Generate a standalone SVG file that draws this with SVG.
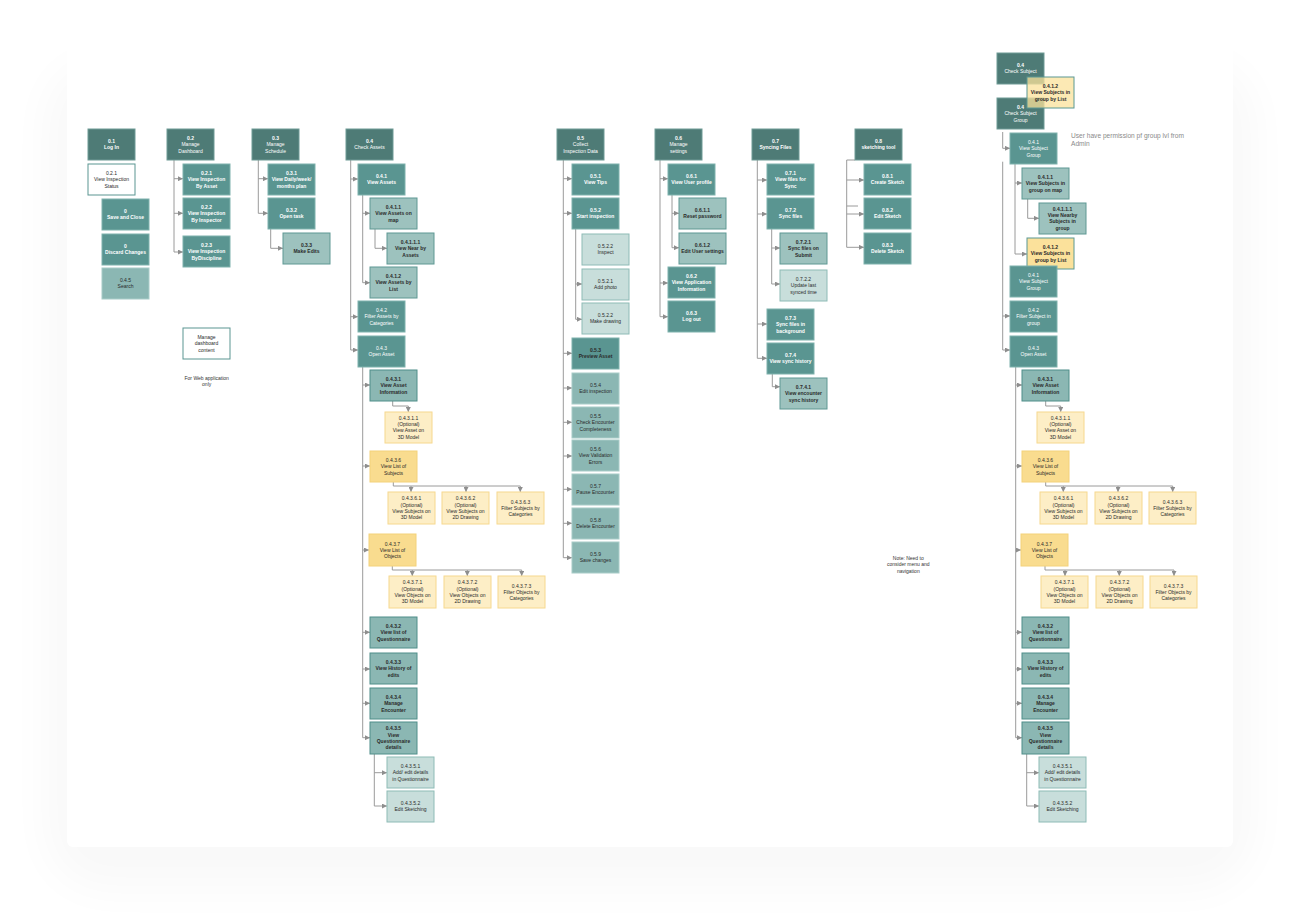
<svg xmlns="http://www.w3.org/2000/svg" width="1300" height="919" viewBox="0 0 1300 919">
<style>
text{font-family:"Liberation Sans",Arial,sans-serif;font-size:5px;text-anchor:middle}
.tw{fill:#ffffff}.td{fill:#2a2a2a}.b{font-weight:bold}
rect{stroke-width:1}
.dk{fill:#4e7b76;stroke:#6f9b96}
.md{fill:#5a9591;stroke:#7fb2ad}
.lt{fill:#9dc2be;stroke:#5e9893}
.gy{fill:#8bb7b3;stroke:#a8ccc8}
.gb{fill:#8bb7b3;stroke:#4f8e89}
.vl{fill:#c8dedb;stroke:#8ebbb6}
.pl{fill:#fdeec6;stroke:#f6d88e}
.yl{fill:#f9dc8f;stroke:#f3d27a}
.yt{fill:#fbe19b;stroke:#5b9893}
.wh{fill:#ffffff;stroke:#5a9591}
.c{fill:none;stroke:#9a9a9a;stroke-width:1}
.a{fill:none;stroke:#9a9a9a;stroke-width:1;marker-end:url(#ah)}
.note{fill:#333;text-anchor:middle}
</style>
<defs>
<marker id="ah" viewBox="0 0 10 10" refX="10" refY="5" markerWidth="5" markerHeight="5" markerUnits="userSpaceOnUse" orient="auto"><path d="M0,0 L10,5 L0,10 z" fill="#8e8e8e"/></marker>
<filter id="sh" x="-10%" y="-10%" width="120%" height="125%"><feGaussianBlur stdDeviation="22"/></filter>
</defs>
<rect width="1300" height="919" fill="#ffffff"/>
<rect x="45" y="60" width="1210" height="830" rx="60" fill="#000" opacity="0.025" filter="url(#sh)"/>
<rect x="67" y="10" width="1166" height="837" rx="6" fill="#ffffff"/>

<g id="connectors">
<path class="c" d="M174,160 V252"/>
<path class="a" d="M174,178.7 H183"/><path class="a" d="M174,213.3 H183"/><path class="a" d="M174,252 H183"/>
<path class="c" d="M258.3,160 V213.3"/>
<path class="a" d="M258.3,178.7 H268"/><path class="a" d="M258.3,213.3 H268"/>
<path class="a" d="M270.7,229 V248.3 H283"/>

<path class="c" d="M350.7,160 V350"/>
<path class="a" d="M350.7,179 H358"/><path class="a" d="M350.7,316.7 H358"/><path class="a" d="M350.7,350 H358"/>
<path class="c" d="M362.7,195 V282.7"/>
<path class="a" d="M362.7,213.3 H370"/><path class="a" d="M362.7,282.7 H370"/>
<path class="a" d="M375,229 V248.3 H387"/>
<path class="c" d="M362.7,367 V737.7"/>
<path class="a" d="M362.7,385 H370"/><path class="a" d="M362.7,466 H370"/><path class="a" d="M362.7,550 H369"/><path class="a" d="M362.7,632.3 H370"/><path class="a" d="M362.7,669 H370"/><path class="a" d="M362.7,703.3 H370"/><path class="a" d="M362.7,737.7 H370"/>
<path class="a" d="M392.7,401 V406 H408.3 V412"/>
<path class="c" d="M393.3,482 V486 H520.3"/>
<path class="a" d="M411,486 V492"/><path class="a" d="M466,486 V492"/><path class="a" d="M520.3,486 V492"/>
<path class="c" d="M392.3,566 V570 H521.7"/>
<path class="a" d="M412.3,570 V576"/><path class="a" d="M467.3,570 V576"/><path class="a" d="M521.7,570 V576"/>
<path class="c" d="M374.3,754 V806"/>
<path class="a" d="M374.3,772.7 H387"/><path class="a" d="M374.3,806 H387"/>

<path class="c" d="M563.3,160 V557.7"/>
<path class="a" d="M563.3,178.7 H572"/><path class="a" d="M563.3,213.3 H572"/><path class="a" d="M563.3,353.3 H572"/><path class="a" d="M563.3,388 H572"/><path class="a" d="M563.3,422.3 H572"/><path class="a" d="M563.3,456 H572"/><path class="a" d="M563.3,489.3 H572"/><path class="a" d="M563.3,523.3 H572"/><path class="a" d="M563.3,557.7 H572"/>
<path class="c" d="M575.7,229 V319.3"/>
<path class="a" d="M575.7,284 H582"/><path class="a" d="M575.7,319.3 H582"/>

<path class="c" d="M660,160 V316.7"/>
<path class="a" d="M660,178.7 H668"/><path class="a" d="M660,283 H668"/><path class="a" d="M660,316.7 H668"/>
<path class="c" d="M672,195 V247.7"/>
<path class="a" d="M672,213.3 H679"/><path class="a" d="M672,247.7 H679"/>

<path class="c" d="M757.3,160 V358.3"/>
<path class="a" d="M757.3,180 H767"/><path class="a" d="M757.3,214 H767"/><path class="a" d="M757.3,324 H767"/><path class="a" d="M757.3,358.3 H767"/>
<path class="c" d="M771.7,229 V284"/>
<path class="a" d="M771.7,248 H780"/><path class="a" d="M771.7,284 H780"/>
<path class="a" d="M772.3,374 V386.7 H780"/>

<path class="c" d="M855,160 H846.7 V247.3"/>
<path class="c" d="M846.7,206 H858"/>
<path class="a" d="M846.7,180 H864"/><path class="a" d="M846.7,214 H864"/><path class="a" d="M846.7,247.3 H864"/>

<path class="a" d="M1002.7,132 V148.3 H1010"/>
<path class="c" d="M1002.7,161.7 V350"/>
<path class="a" d="M1002.7,316 H1010"/><path class="a" d="M1002.7,350 H1010"/>
<path class="c" d="M1015,164 V254"/>
<path class="a" d="M1015,183 H1022"/><path class="a" d="M1015,254 H1027"/>
<path class="a" d="M1027.7,199 V218.3 H1039"/>
<path class="c" d="M1015.7,367 V737.7"/>
<path class="a" d="M1015.7,385 H1022"/><path class="a" d="M1015.7,466 H1022"/><path class="a" d="M1015.7,550 H1021"/><path class="a" d="M1015.7,632.3 H1022"/><path class="a" d="M1015.7,669 H1022"/><path class="a" d="M1015.7,703.3 H1022"/><path class="a" d="M1015.7,737.7 H1022"/>
<path class="a" d="M1045.7,401 V406 H1060.7 V412"/>
<path class="c" d="M1045.7,482 V486 H1172.7"/>
<path class="a" d="M1063.3,486 V492"/><path class="a" d="M1118,486 V492"/><path class="a" d="M1172.7,486 V492"/>
<path class="c" d="M1045,566 V570 H1174"/>
<path class="a" d="M1065,570 V576"/><path class="a" d="M1119.3,570 V576"/><path class="a" d="M1174,570 V576"/>
<path class="c" d="M1026.7,754 V806"/>
<path class="a" d="M1026.7,772.7 H1039"/><path class="a" d="M1026.7,806 H1039"/>
</g>

<g id="n01"><rect class="dk" x="88" y="129" width="47" height="31"/><text class="tw b" x="111.5" y="143.15"><tspan>0.1</tspan><tspan x="111.5" dy="6.3">Log In</tspan></text></g>
<g id="n021w"><rect class="wh" x="88" y="164" width="47" height="31"/><text class="td" x="111.5" y="175"><tspan>0.2.1</tspan><tspan x="111.5" dy="6.3">View Inspection</tspan><tspan x="111.5" dy="6.3">Status</tspan></text></g>
<g id="nsave"><rect class="md" x="102" y="199" width="47" height="31"/><text class="tw b" x="125.5" y="213.15"><tspan>0</tspan><tspan x="125.5" dy="6.3">Save and Close</tspan></text></g>
<g id="ndisc"><rect class="md" x="102" y="234" width="47" height="31"/><text class="tw b" x="125.5" y="248.15"><tspan>0</tspan><tspan x="125.5" dy="6.3">Discard Changes</tspan></text></g>
<g id="nsearch"><rect class="gy" x="102" y="268" width="47" height="31"/><text class="td" x="125.5" y="282.15"><tspan>0.4.5</tspan><tspan x="125.5" dy="6.3">Search</tspan></text></g>

<g id="n02"><rect class="dk" x="167" y="129" width="47" height="31"/><text class="tw" x="190.5" y="140"><tspan class="b">0.2</tspan><tspan x="190.5" dy="6.3">Manage</tspan><tspan x="190.5" dy="6.3">Dashboard</tspan></text></g>
<g id="n021"><rect class="md" x="183" y="164" width="47" height="31"/><text class="tw b" x="206.5" y="175"><tspan>0.2.1</tspan><tspan x="206.5" dy="6.3">View Inspection</tspan><tspan x="206.5" dy="6.3">By Asset</tspan></text></g>
<g id="n022"><rect class="md" x="183" y="198" width="47" height="31"/><text class="tw b" x="206.5" y="209"><tspan>0.2.2</tspan><tspan x="206.5" dy="6.3">View Inspection</tspan><tspan x="206.5" dy="6.3">By Inspector</tspan></text></g>
<g id="n023"><rect class="md" x="183" y="236" width="47" height="31"/><text class="tw b" x="206.5" y="247"><tspan>0.2.3</tspan><tspan x="206.5" dy="6.3">View Inspection</tspan><tspan x="206.5" dy="6.3">ByDiscipline</tspan></text></g>
<g id="nmdc"><rect class="wh" x="183" y="328" width="47" height="31"/><text class="td" x="206.5" y="339"><tspan>Manage</tspan><tspan x="206.5" dy="6.3">dashboard</tspan><tspan x="206.5" dy="6.3">content</tspan></text></g>
<g id="nweb"><text class="note" x="206.7" y="379.5"><tspan>For Web application</tspan><tspan x="206.7" dy="6.3">only</tspan></text></g>

<g id="n03"><rect class="dk" x="252" y="129" width="47" height="31"/><text class="tw" x="275.5" y="140"><tspan class="b">0.3</tspan><tspan x="275.5" dy="6.3">Manage</tspan><tspan x="275.5" dy="6.3">Schedule</tspan></text></g>
<g id="n031"><rect class="md" x="268" y="164" width="47" height="31"/><text class="tw b" x="291.5" y="175"><tspan>0.3.1</tspan><tspan x="291.5" dy="6.3">View Daily/week/</tspan><tspan x="291.5" dy="6.3">months plan</tspan></text></g>
<g id="n032"><rect class="md" x="268" y="198" width="47" height="31"/><text class="tw b" x="291.5" y="212.15"><tspan>0.3.2</tspan><tspan x="291.5" dy="6.3">Open task</tspan></text></g>
<g id="n033"><rect class="lt" x="283" y="233" width="47" height="31"/><text class="td b" x="306.5" y="247.15"><tspan>0.3.3</tspan><tspan x="306.5" dy="6.3">Make Edits</tspan></text></g>

<g id="n04"><rect class="dk" x="346" y="129" width="47" height="31"/><text class="tw" x="369.5" y="143.15"><tspan class="b">0.4</tspan><tspan x="369.5" dy="6.3">Check Assets</tspan></text></g>
<g id="n041"><rect class="md" x="358" y="164" width="47" height="31"/><text class="tw b" x="381.5" y="178.15"><tspan>0.4.1</tspan><tspan x="381.5" dy="6.3">View Assets</tspan></text></g>
<g id="n0411"><rect class="lt" x="370" y="198" width="47" height="31"/><text class="td b" x="393.5" y="209"><tspan>0.4.1.1</tspan><tspan x="393.5" dy="6.3">View Assets on</tspan><tspan x="393.5" dy="6.3">map</tspan></text></g>
<g id="n04111"><rect class="lt" x="387" y="233" width="47" height="31"/><text class="td b" x="410.5" y="244"><tspan>0.4.1.1.1</tspan><tspan x="410.5" dy="6.3">View Near by</tspan><tspan x="410.5" dy="6.3">Assets</tspan></text></g>
<g id="n0412"><rect class="lt" x="370" y="267" width="47" height="31"/><text class="td b" x="393.5" y="278"><tspan>0.4.1.2</tspan><tspan x="393.5" dy="6.3">View Assets by</tspan><tspan x="393.5" dy="6.3">List</tspan></text></g>
<g id="n042"><rect class="md" x="358" y="301" width="47" height="31"/><text class="tw" x="381.5" y="312"><tspan>0.4.2</tspan><tspan x="381.5" dy="6.3">Filter Assets by</tspan><tspan x="381.5" dy="6.3">Categories</tspan></text></g>
<g id="n043"><rect class="md" x="358" y="336" width="47" height="31"/><text class="tw" x="381.5" y="350.15"><tspan>0.4.3</tspan><tspan x="381.5" dy="6.3">Open Asset</tspan></text></g>
<g id="n0431"><rect class="gb" x="370" y="370" width="47" height="31"/><text class="td b" x="393.5" y="381"><tspan>0.4.3.1</tspan><tspan x="393.5" dy="6.3">View Asset</tspan><tspan x="393.5" dy="6.3">Information</tspan></text></g>
<g id="n04311"><rect class="pl" x="385" y="412" width="47" height="31"/><text class="td" x="408.5" y="419.85"><tspan>0.4.3.1.1</tspan><tspan x="408.5" dy="6.3">(Optional)</tspan><tspan x="408.5" dy="6.3">View Asset  on</tspan><tspan x="408.5" dy="6.3">3D Model</tspan></text></g>
<g id="n0436"><rect class="yl" x="370" y="451" width="47" height="31"/><text class="td" x="393.5" y="462"><tspan>0.4.3.6</tspan><tspan x="393.5" dy="6.3">View List of</tspan><tspan x="393.5" dy="6.3">Subjects</tspan></text></g>
<g id="n04361"><rect class="pl" x="388" y="492" width="47" height="32"/><text class="td" x="411.5" y="500.35"><tspan>0.4.3.6.1</tspan><tspan x="411.5" dy="6.3">(Optional)</tspan><tspan x="411.5" dy="6.3">View Subjects on</tspan><tspan x="411.5" dy="6.3">3D Model</tspan></text></g>
<g id="n04362"><rect class="pl" x="442" y="492" width="47" height="32"/><text class="td" x="465.5" y="500.35"><tspan>0.4.3.6.2</tspan><tspan x="465.5" dy="6.3">(Optional)</tspan><tspan x="465.5" dy="6.3">View Subjects on</tspan><tspan x="465.5" dy="6.3">2D Drawing</tspan></text></g>
<g id="n04363"><rect class="pl" x="497" y="492" width="47" height="32"/><text class="td" x="520.5" y="503.5"><tspan>0.4.3.6.3</tspan><tspan x="520.5" dy="6.3">Filter Subjects by</tspan><tspan x="520.5" dy="6.3">Categories</tspan></text></g>
<g id="n0437"><rect class="yl" x="369" y="534" width="47" height="32"/><text class="td" x="392.5" y="545.5"><tspan>0.4.3.7</tspan><tspan x="392.5" dy="6.3">View List of</tspan><tspan x="392.5" dy="6.3">Objects</tspan></text></g>
<g id="n04371"><rect class="pl" x="389" y="576" width="47" height="32"/><text class="td" x="412.5" y="584.35"><tspan>0.4.3.7.1</tspan><tspan x="412.5" dy="6.3">(Optional)</tspan><tspan x="412.5" dy="6.3">View Objects on</tspan><tspan x="412.5" dy="6.3">3D Model</tspan></text></g>
<g id="n04372"><rect class="pl" x="444" y="576" width="47" height="32"/><text class="td" x="467.5" y="584.35"><tspan>0.4.3.7.2</tspan><tspan x="467.5" dy="6.3">(Optional)</tspan><tspan x="467.5" dy="6.3">View Objects on</tspan><tspan x="467.5" dy="6.3">2D Drawing</tspan></text></g>
<g id="n04373"><rect class="pl" x="498" y="576" width="47" height="32"/><text class="td" x="521.5" y="587.5"><tspan>0.4.3.7.3</tspan><tspan x="521.5" dy="6.3">Filter Objects by</tspan><tspan x="521.5" dy="6.3">Categories</tspan></text></g>
<g id="n0432"><rect class="gb" x="370" y="617" width="47" height="31"/><text class="td b" x="393.5" y="628"><tspan>0.4.3.2</tspan><tspan x="393.5" dy="6.3">View list of</tspan><tspan x="393.5" dy="6.3">Questionnaire</tspan></text></g>
<g id="n0433"><rect class="gb" x="370" y="653" width="47" height="31"/><text class="td b" x="393.5" y="664"><tspan>0.4.3.3</tspan><tspan x="393.5" dy="6.3">View History of</tspan><tspan x="393.5" dy="6.3">edits</tspan></text></g>
<g id="n0434"><rect class="gb" x="370" y="688" width="47" height="31"/><text class="td b" x="393.5" y="699"><tspan>0.4.3.4</tspan><tspan x="393.5" dy="6.3">Manage</tspan><tspan x="393.5" dy="6.3">Encounter</tspan></text></g>
<g id="n0435"><rect class="gb" x="370" y="722" width="47" height="32"/><text class="td b" x="393.5" y="730.35"><tspan>0.4.3.5</tspan><tspan x="393.5" dy="6.3">View</tspan><tspan x="393.5" dy="6.3">Questionnaire</tspan><tspan x="393.5" dy="6.3">details</tspan></text></g>
<g id="n04351"><rect class="vl" x="387" y="757" width="47" height="31"/><text class="td" x="410.5" y="768"><tspan>0.4.3.5.1</tspan><tspan x="410.5" dy="6.3">Add/ edit details</tspan><tspan x="410.5" dy="6.3">in Questionnaire</tspan></text></g>
<g id="n04352"><rect class="vl" x="387" y="791" width="47" height="31"/><text class="td" x="410.5" y="805.15"><tspan>0.4.3.5.2</tspan><tspan x="410.5" dy="6.3">Edit Sketching</tspan></text></g>

<g id="n05"><rect class="dk" x="557" y="129" width="47" height="31"/><text class="tw" x="580.5" y="140"><tspan class="b">0.5</tspan><tspan x="580.5" dy="6.3">Collect</tspan><tspan x="580.5" dy="6.3">Inspection Data</tspan></text></g>
<g id="n051"><rect class="md" x="572" y="164" width="47" height="31"/><text class="tw b" x="595.5" y="178.15"><tspan>0.5.1</tspan><tspan x="595.5" dy="6.3">View Tips</tspan></text></g>
<g id="n052"><rect class="md" x="572" y="198" width="47" height="31"/><text class="tw b" x="595.5" y="212.15"><tspan>0.5.2</tspan><tspan x="595.5" dy="6.3">Start inspection</tspan></text></g>
<g id="n0522a"><rect class="vl" x="582" y="234" width="47" height="31"/><text class="td" x="605.5" y="248.15"><tspan>0.5.2.2</tspan><tspan x="605.5" dy="6.3">Inspect</tspan></text></g>
<g id="n0521"><rect class="vl" x="582" y="269" width="47" height="31"/><text class="td" x="605.5" y="283.15"><tspan>0.5.2.1</tspan><tspan x="605.5" dy="6.3">Add photo</tspan></text></g>
<g id="n0522b"><rect class="vl" x="582" y="303" width="47" height="31"/><text class="td" x="605.5" y="317.15"><tspan>0.5.2.2</tspan><tspan x="605.5" dy="6.3">Make drawing</tspan></text></g>
<g id="n053"><rect class="md" x="572" y="338" width="47" height="31"/><text class="td b" x="595.5" y="352.15"><tspan>0.5.3</tspan><tspan x="595.5" dy="6.3">Preview Asset</tspan></text></g>
<g id="n054"><rect class="gy" x="572" y="373" width="47" height="31"/><text class="td" x="595.5" y="387.15"><tspan>0.5.4</tspan><tspan x="595.5" dy="6.3">Edit inspection</tspan></text></g>
<g id="n055"><rect class="gy" x="572" y="407" width="47" height="31"/><text class="td" x="595.5" y="418"><tspan>0.5.5</tspan><tspan x="595.5" dy="6.3">Check Encounter</tspan><tspan x="595.5" dy="6.3">Completeness</tspan></text></g>
<g id="n056"><rect class="gy" x="572" y="440" width="47" height="31"/><text class="td" x="595.5" y="451"><tspan>0.5.6</tspan><tspan x="595.5" dy="6.3">View Validation</tspan><tspan x="595.5" dy="6.3">Errors</tspan></text></g>
<g id="n057"><rect class="gy" x="572" y="474" width="47" height="31"/><text class="td" x="595.5" y="488.15"><tspan>0.5.7</tspan><tspan x="595.5" dy="6.3">Pause Encounter</tspan></text></g>
<g id="n058"><rect class="gy" x="572" y="508" width="47" height="31"/><text class="td" x="595.5" y="522.15"><tspan>0.5.8</tspan><tspan x="595.5" dy="6.3">Delete Encounter</tspan></text></g>
<g id="n059"><rect class="gy" x="572" y="542" width="47" height="31"/><text class="td" x="595.5" y="556.15"><tspan>0.5.9</tspan><tspan x="595.5" dy="6.3">Save changes</tspan></text></g>

<g id="n06"><rect class="dk" x="655" y="129" width="47" height="31"/><text class="tw" x="678.5" y="140"><tspan class="b">0.6</tspan><tspan x="678.5" dy="6.3">Manage</tspan><tspan x="678.5" dy="6.3">settings</tspan></text></g>
<g id="n061"><rect class="md" x="668" y="164" width="47" height="31"/><text class="tw b" x="691.5" y="178.15"><tspan>0.6.1</tspan><tspan x="691.5" dy="6.3">View User profile</tspan></text></g>
<g id="n0611"><rect class="lt" x="679" y="198" width="47" height="31"/><text class="td b" x="702.5" y="212.15"><tspan>0.6.1.1</tspan><tspan x="702.5" dy="6.3">Reset password</tspan></text></g>
<g id="n0612"><rect class="lt" x="679" y="233" width="47" height="31"/><text class="td b" x="702.5" y="247.15"><tspan>0.6.1.2</tspan><tspan x="702.5" dy="6.3">Edit User settings</tspan></text></g>
<g id="n062"><rect class="md" x="668" y="267" width="47" height="31"/><text class="tw b" x="691.5" y="278"><tspan>0.6.2</tspan><tspan x="691.5" dy="6.3">View Application</tspan><tspan x="691.5" dy="6.3">Information</tspan></text></g>
<g id="n063"><rect class="md" x="668" y="301" width="47" height="31"/><text class="tw b" x="691.5" y="315.15"><tspan>0.6.3</tspan><tspan x="691.5" dy="6.3">Log out</tspan></text></g>

<g id="n07"><rect class="dk" x="752" y="129" width="47" height="31"/><text class="tw b" x="775.5" y="143.15"><tspan>0.7</tspan><tspan x="775.5" dy="6.3">Syncing Files</tspan></text></g>
<g id="n071"><rect class="md" x="767" y="164" width="47" height="31"/><text class="tw b" x="790.5" y="175"><tspan>0.7.1</tspan><tspan x="790.5" dy="6.3">View files for</tspan><tspan x="790.5" dy="6.3">Sync</tspan></text></g>
<g id="n072"><rect class="md" x="767" y="198" width="47" height="31"/><text class="tw b" x="790.5" y="212.15"><tspan>0.7.2</tspan><tspan x="790.5" dy="6.3">Sync files</tspan></text></g>
<g id="n0721"><rect class="lt" x="780" y="233" width="47" height="31"/><text class="td b" x="803.5" y="244"><tspan>0.7.2.1</tspan><tspan x="803.5" dy="6.3">Sync files on</tspan><tspan x="803.5" dy="6.3">Submit</tspan></text></g>
<g id="n0722"><rect class="vl" x="780" y="270" width="47" height="31"/><text class="td" x="803.5" y="281"><tspan>0.7.2.2</tspan><tspan x="803.5" dy="6.3">Update last</tspan><tspan x="803.5" dy="6.3">synced time</tspan></text></g>
<g id="n073"><rect class="md" x="767" y="309" width="47" height="31"/><text class="tw b" x="790.5" y="320"><tspan>0.7.3</tspan><tspan x="790.5" dy="6.3">Sync files in</tspan><tspan x="790.5" dy="6.3">background</tspan></text></g>
<g id="n074"><rect class="md" x="767" y="343" width="47" height="31"/><text class="tw b" x="790.5" y="357.15"><tspan>0.7.4</tspan><tspan x="790.5" dy="6.3">View sync history</tspan></text></g>
<g id="n0741"><rect class="lt" x="780" y="378" width="47" height="31"/><text class="td b" x="803.5" y="389"><tspan>0.7.4.1</tspan><tspan x="803.5" dy="6.3">View encounter</tspan><tspan x="803.5" dy="6.3">sync history</tspan></text></g>

<g id="n08"><rect class="dk" x="855" y="129" width="47" height="31"/><text class="tw b" x="878.5" y="143.15"><tspan>0.8</tspan><tspan x="878.5" dy="6.3">sketching tool</tspan></text></g>
<g id="n081"><rect class="md" x="864" y="164" width="47" height="31"/><text class="tw b" x="887.5" y="178.15"><tspan>0.8.1</tspan><tspan x="887.5" dy="6.3">Create Sketch</tspan></text></g>
<g id="n082"><rect class="md" x="864" y="198" width="47" height="31"/><text class="tw b" x="887.5" y="212.15"><tspan>0.8.2</tspan><tspan x="887.5" dy="6.3">Edit Sketch</tspan></text></g>
<g id="n083"><rect class="md" x="864" y="233" width="47" height="31"/><text class="tw b" x="887.5" y="247.15"><tspan>0.8.3</tspan><tspan x="887.5" dy="6.3">Delete Sketch</tspan></text></g>

<g id="note"><text class="note" x="908.3" y="560"><tspan>Note: Need to</tspan><tspan x="908.3" dy="6.3">consider menu and</tspan><tspan x="908.3" dy="6.3">navigation</tspan></text></g>

<g id="r04a"><rect class="dk" x="997" y="53" width="47" height="31"/><text class="tw" x="1020.5" y="67.15"><tspan class="b">0.4</tspan><tspan x="1020.5" dy="6.3">Check Subject</tspan></text></g>
<g id="r04b"><rect class="dk" x="997" y="98" width="47" height="31"/><text class="tw" x="1020.5" y="109"><tspan class="b">0.4</tspan><tspan x="1020.5" dy="6.3">Check Subject</tspan><tspan x="1020.5" dy="6.3">Group</tspan></text></g>
<g id="r0412top"><rect class="yt" x="1027" y="77" width="47" height="31" fill-opacity="0.75"/><text class="td b" x="1050.5" y="88"><tspan>0.4.1.2</tspan><tspan x="1050.5" dy="6.3">View Subjects in</tspan><tspan x="1050.5" dy="6.3">group by List</tspan></text></g>
<g id="rnote"><text x="1071" y="138" style="text-anchor:start;font-size:6.6px;fill:#8a8a8a"><tspan>User have permission pf group lvl from</tspan><tspan x="1071" dy="8">Admin</tspan></text></g>
<g id="r041"><rect class="md" x="1010" y="133" width="47" height="31"/><text class="tw" x="1033.5" y="144"><tspan>0.4.1</tspan><tspan x="1033.5" dy="6.3">View Subject</tspan><tspan x="1033.5" dy="6.3">Group</tspan></text></g>
<g id="r0411"><rect class="lt" x="1022" y="168" width="47" height="31"/><text class="td b" x="1045.5" y="179"><tspan>0.4.1.1</tspan><tspan x="1045.5" dy="6.3">View Subjects in</tspan><tspan x="1045.5" dy="6.3">group on map</tspan></text></g>
<g id="r04111"><rect class="lt" x="1039" y="203" width="47" height="31"/><text class="td b" x="1062.5" y="210.85"><tspan>0.4.1.1.1</tspan><tspan x="1062.5" dy="6.3">View Nearby</tspan><tspan x="1062.5" dy="6.3">Subjects in</tspan><tspan x="1062.5" dy="6.3">group</tspan></text></g>
<g id="r0412"><rect class="yt" x="1027" y="238" width="47" height="31"/><text class="td b" x="1050.5" y="249"><tspan>0.4.1.2</tspan><tspan x="1050.5" dy="6.3">View Subjects in</tspan><tspan x="1050.5" dy="6.3">group by List</tspan></text></g>
<g id="r041b"><rect class="md" x="1010" y="266" width="47" height="31"/><text class="tw" x="1033.5" y="277"><tspan>0.4.1</tspan><tspan x="1033.5" dy="6.3">View Subject</tspan><tspan x="1033.5" dy="6.3">Group</tspan></text></g>
<g id="r042"><rect class="md" x="1010" y="301" width="47" height="31"/><text class="tw" x="1033.5" y="312"><tspan>0.4.2</tspan><tspan x="1033.5" dy="6.3">Filter Subject in</tspan><tspan x="1033.5" dy="6.3">group</tspan></text></g>
<g id="r043"><rect class="md" x="1010" y="336" width="47" height="31"/><text class="tw" x="1033.5" y="350.15"><tspan>0.4.3</tspan><tspan x="1033.5" dy="6.3">Open Asset</tspan></text></g>
<g id="r0431"><rect class="gb" x="1022" y="370" width="47" height="31"/><text class="td b" x="1045.5" y="381"><tspan>0.4.3.1</tspan><tspan x="1045.5" dy="6.3">View Asset</tspan><tspan x="1045.5" dy="6.3">Information</tspan></text></g>
<g id="r04311"><rect class="pl" x="1037" y="412" width="47" height="31"/><text class="td" x="1060.5" y="419.85"><tspan>0.4.3.1.1</tspan><tspan x="1060.5" dy="6.3">(Optional)</tspan><tspan x="1060.5" dy="6.3">View Asset  on</tspan><tspan x="1060.5" dy="6.3">3D Model</tspan></text></g>
<g id="r0436"><rect class="yl" x="1022" y="451" width="47" height="31"/><text class="td" x="1045.5" y="462"><tspan>0.4.3.6</tspan><tspan x="1045.5" dy="6.3">View List of</tspan><tspan x="1045.5" dy="6.3">Subjects</tspan></text></g>
<g id="r04361"><rect class="pl" x="1040" y="492" width="47" height="32"/><text class="td" x="1063.5" y="500.35"><tspan>0.4.3.6.1</tspan><tspan x="1063.5" dy="6.3">(Optional)</tspan><tspan x="1063.5" dy="6.3">View Subjects on</tspan><tspan x="1063.5" dy="6.3">3D Model</tspan></text></g>
<g id="r04362"><rect class="pl" x="1095" y="492" width="47" height="32"/><text class="td" x="1118.5" y="500.35"><tspan>0.4.3.6.2</tspan><tspan x="1118.5" dy="6.3">(Optional)</tspan><tspan x="1118.5" dy="6.3">View Subjects on</tspan><tspan x="1118.5" dy="6.3">2D Drawing</tspan></text></g>
<g id="r04363"><rect class="pl" x="1149" y="492" width="47" height="32"/><text class="td" x="1172.5" y="503.5"><tspan>0.4.3.6.3</tspan><tspan x="1172.5" dy="6.3">Filter Subjects by</tspan><tspan x="1172.5" dy="6.3">Categories</tspan></text></g>
<g id="r0437"><rect class="yl" x="1021" y="534" width="47" height="32"/><text class="td" x="1044.5" y="545.5"><tspan>0.4.3.7</tspan><tspan x="1044.5" dy="6.3">View List of</tspan><tspan x="1044.5" dy="6.3">Objects</tspan></text></g>
<g id="r04371"><rect class="pl" x="1041" y="576" width="47" height="32"/><text class="td" x="1064.5" y="584.35"><tspan>0.4.3.7.1</tspan><tspan x="1064.5" dy="6.3">(Optional)</tspan><tspan x="1064.5" dy="6.3">View Objects on</tspan><tspan x="1064.5" dy="6.3">3D Model</tspan></text></g>
<g id="r04372"><rect class="pl" x="1096" y="576" width="47" height="32"/><text class="td" x="1119.5" y="584.35"><tspan>0.4.3.7.2</tspan><tspan x="1119.5" dy="6.3">(Optional)</tspan><tspan x="1119.5" dy="6.3">View Objects on</tspan><tspan x="1119.5" dy="6.3">2D Drawing</tspan></text></g>
<g id="r04373"><rect class="pl" x="1150" y="576" width="47" height="32"/><text class="td" x="1173.5" y="587.5"><tspan>0.4.3.7.3</tspan><tspan x="1173.5" dy="6.3">Filter Objects by</tspan><tspan x="1173.5" dy="6.3">Categories</tspan></text></g>
<g id="r0432"><rect class="gb" x="1022" y="617" width="47" height="31"/><text class="td b" x="1045.5" y="628"><tspan>0.4.3.2</tspan><tspan x="1045.5" dy="6.3">View list of</tspan><tspan x="1045.5" dy="6.3">Questionnaire</tspan></text></g>
<g id="r0433"><rect class="gb" x="1022" y="653" width="47" height="31"/><text class="td b" x="1045.5" y="664"><tspan>0.4.3.3</tspan><tspan x="1045.5" dy="6.3">View History of</tspan><tspan x="1045.5" dy="6.3">edits</tspan></text></g>
<g id="r0434"><rect class="gb" x="1022" y="688" width="47" height="31"/><text class="td b" x="1045.5" y="699"><tspan>0.4.3.4</tspan><tspan x="1045.5" dy="6.3">Manage</tspan><tspan x="1045.5" dy="6.3">Encounter</tspan></text></g>
<g id="r0435"><rect class="gb" x="1022" y="722" width="47" height="32"/><text class="td b" x="1045.5" y="730.35"><tspan>0.4.3.5</tspan><tspan x="1045.5" dy="6.3">View</tspan><tspan x="1045.5" dy="6.3">Questionnaire</tspan><tspan x="1045.5" dy="6.3">details</tspan></text></g>
<g id="r04351"><rect class="vl" x="1039" y="757" width="47" height="31"/><text class="td" x="1062.5" y="768"><tspan>0.4.3.5.1</tspan><tspan x="1062.5" dy="6.3">Add/ edit details</tspan><tspan x="1062.5" dy="6.3">in Questionnaire</tspan></text></g>
<g id="r04352"><rect class="vl" x="1039" y="791" width="47" height="31"/><text class="td" x="1062.5" y="805.15"><tspan>0.4.3.5.2</tspan><tspan x="1062.5" dy="6.3">Edit Sketching</tspan></text></g>
</svg>
